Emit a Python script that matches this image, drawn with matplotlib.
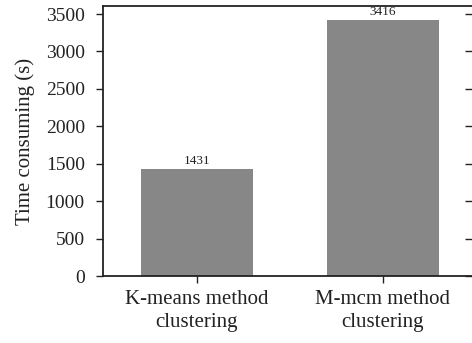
import matplotlib
matplotlib.use("Agg")
import matplotlib.pyplot as plt

# data
methods = ["K-means method\nclustering", "M-mcm method\nclustering"]
times = [1431, 3416]
yticks = [0, 500, 1000, 1500, 2000, 2500, 3000, 3500]

plt.rcParams["font.family"] = ["Liberation Serif", "DejaVu Serif"]
txt = "#222222"

fig = plt.figure(figsize=(4.72, 3.43), dpi=100)
ax = fig.add_axes([0.218, 0.195, 0.782, 0.7875])

x = range(len(times))
bars = ax.bar(x, times, width=0.6, color="#878787")
for b, v in zip(bars, times):
    ax.text(b.get_x() + b.get_width() / 2, v + 30, str(v),
            ha="center", va="bottom", fontsize=9.5, color=txt)

ax.set_xlim(-0.505, 1.48)
ax.set_ylim(0, 3607)
ax.set_xticks(list(x))
ax.set_xticklabels(methods, fontsize=15, color=txt, linespacing=1.25)
ax.set_yticks(yticks)
ax.tick_params(axis="y", labelsize=14, colors=txt, length=5, width=1, pad=8)
ax.tick_params(axis="x", length=5, width=1, colors=txt, pad=5)
ax.set_ylabel("Time consuming (s)", fontsize=15, color=txt, labelpad=8)

for s in ["left", "bottom", "top"]:
    ax.spines[s].set_linewidth(1.3)
    ax.spines[s].set_color(txt)
ax.spines["right"].set_visible(False)

# inward ticks on the right edge (spine itself lies at the cropped edge)
ax2 = ax.twinx()
ax2.set_ylim(ax.get_ylim())
ax2.set_yticks(yticks)
ax2.tick_params(axis="y", direction="in", length=5, width=1, colors=txt,
                labelright=False)
for s in ax2.spines.values():
    s.set_visible(False)

fig.savefig("out.png", dpi=100)
